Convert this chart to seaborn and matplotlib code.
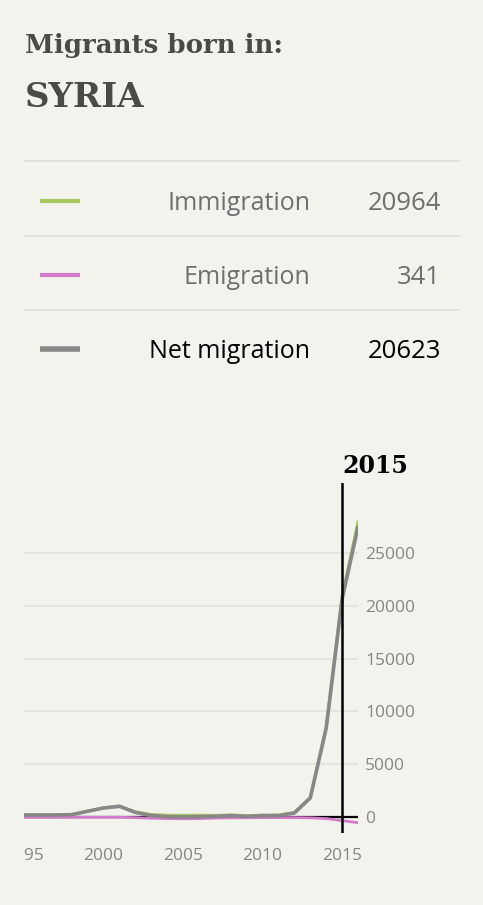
import matplotlib
matplotlib.use("Agg")
import matplotlib.pyplot as plt
import seaborn as sns
from matplotlib.lines import Line2D
from matplotlib.transforms import Bbox, TransformedBbox

# data
years = list(range(1995, 2017))
immigration = [220, 220, 220, 250, 570, 880, 1040, 500, 250, 180, 170,
               180, 160, 210, 130, 190, 190, 440, 1880, 8550, 20964, 28000]
emigration = [30, 30, 30, 30, 30, 30, 30, 60, 120, 150, 170,
              150, 100, 80, 70, 60, 60, 60, 80, 150, 341, 540]
net_migration = [190, 190, 190, 220, 540, 850, 1010, 440, 130, 30, 0,
                 30, 60, 130, 60, 130, 130, 380, 1800, 8400, 20623, 27460]

country = "SYRIA"
highlight_year = 2015
legend_labels = ["Immigration", "Emigration", "Net migration"]
legend_values = [20964, 341, 20623]
line_colors = ["#a8c95e", "#d47ccb", "#878787"]
y_ticks = [0, 5000, 10000, 15000, 20000, 25000]
x_ticks = [1995, 2000, 2005, 2010, 2015]

bg = "#f3f3ee"
W, H = 483, 905

sns.set_theme(style="white", rc={"figure.facecolor": bg, "axes.facecolor": bg})
plt.rcParams["font.family"] = ["Open Sans", "DejaVu Sans"]

fig = plt.figure(figsize=(W / 100, H / 100), dpi=100)


def fx(px):
    return px / W


def fy(py):
    return 1 - py / H


# header
fig.text(fx(25), fy(53), "Migrants born in:", family="DejaVu Serif", weight="bold",
         fontsize=18.7, color="#4a4a46", va="baseline")
fig.text(fx(25), fy(107), country, family="DejaVu Serif", weight="bold",
         fontsize=24.5, color="#4a4a46", va="baseline")

# legend table
for ypx in [161, 236, 310]:
    fig.add_artist(Line2D([fx(24), fx(459)], [fy(ypx), fy(ypx)], color="#deded9", lw=1.3))

for i, (lab, val, col) in enumerate(zip(legend_labels, legend_values, line_colors)):
    base = 210 + i * 74
    txt_col = "#000000" if i == 2 else "#6e6e6e"
    fig.add_artist(Line2D([fx(40), fx(80)], [fy(base - 9), fy(base - 9)], color=col,
                          lw=3 if i < 2 else 4, solid_capstyle="butt"))
    fig.text(fx(310), fy(base), lab, ha="right", va="baseline", fontsize=18, color=txt_col)
    fig.text(fx(441), fy(base), str(val), ha="right", va="baseline", fontsize=18.5,
             color=txt_col)

# chart
ax = fig.add_axes([fx(24), fy(833), fx(358) - fx(24), (833 - 483) / H])
ax.set_facecolor(bg)
ax.axhline(0, color="black", lw=1.6, zorder=1)
sns.lineplot(x=years, y=immigration, color=line_colors[0], lw=2, ax=ax, zorder=2)
sns.lineplot(x=years, y=[-v for v in emigration], color=line_colors[1], lw=2, ax=ax, zorder=2)
sns.lineplot(x=years, y=net_migration, color=line_colors[2], lw=2.6, ax=ax, zorder=3)

ax.set_xlim(1995, 2016)
ax.set_ylim(-1515, 31630)
ax.set_yticks(y_ticks)
ax.set_xticks(x_ticks)
ax.yaxis.tick_right()
ax.grid(axis="y", color="#e3e3de", lw=1.3)
ax.set_axisbelow(True)
for s in ax.spines.values():
    s.set_visible(False)
ax.tick_params(axis="y", length=0, pad=5, labelsize=12.5, labelcolor="#858585")
ax.tick_params(axis="x", length=0, pad=11, labelsize=12.5, labelcolor="#858585")

# the leftmost year label is cut off at the chart edge
clip = TransformedBbox(Bbox.from_extents(fx(24), 0, 1, 1), fig.transFigure)
for t in ax.xaxis.get_major_ticks():
    t.label1.set_clip_on(True)
    t.label1.set_clip_box(clip)

ax.axvline(highlight_year, color="black", lw=1.8, zorder=4)
ax.text(highlight_year, 1.03, str(highlight_year), transform=ax.get_xaxis_transform(),
        family="DejaVu Serif", weight="bold", fontsize=17, color="black", ha="left",
        va="baseline")

fig.savefig("out.png", dpi=100, facecolor=bg)
